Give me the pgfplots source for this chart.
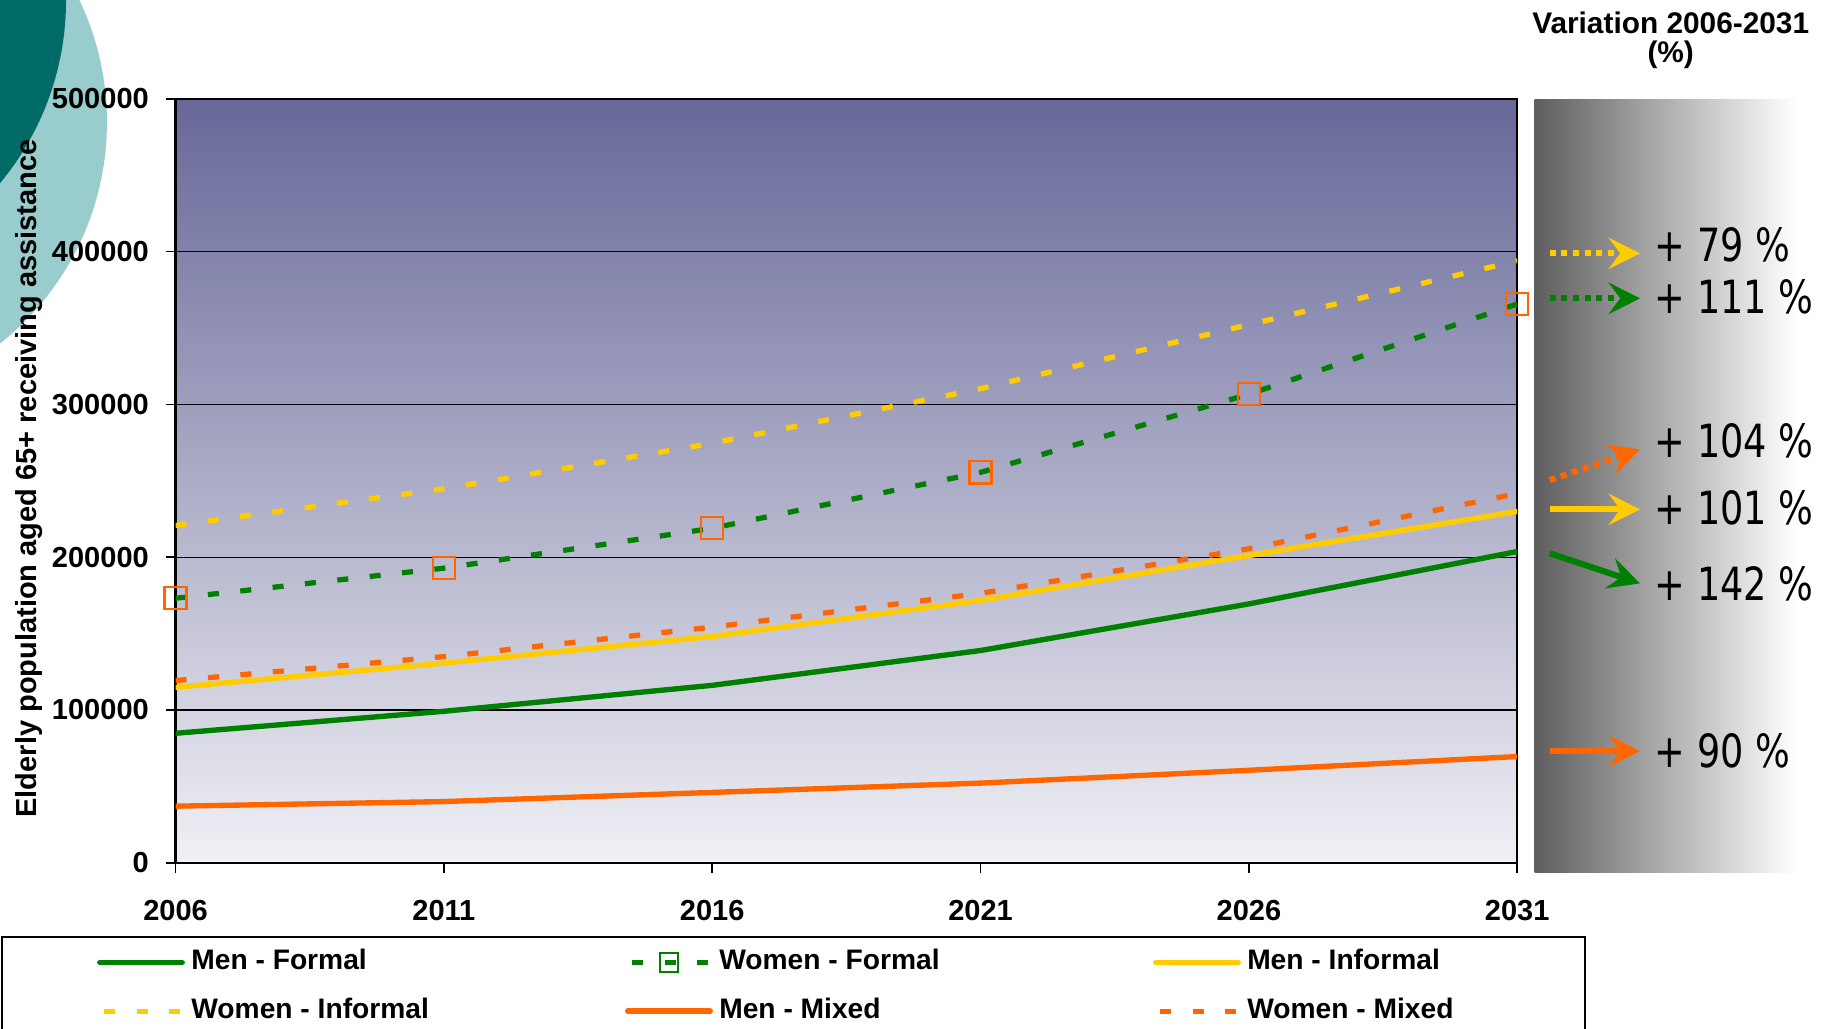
\documentclass[border=0pt]{standalone}
\usepackage{fontspec}
\setmainfont{Liberation Sans}
\newfontfamily\pctfont{DejaVu Sans}[FakeStretch=0.8]
\usepackage{pgfplots}
\pgfplotsset{compat=1.18}
\usetikzlibrary{arrows.meta}

\definecolor{cgreen}{RGB}{0,128,0}
\definecolor{cyellow}{RGB}{255,204,0}
\definecolor{corange}{RGB}{255,102,0}
\definecolor{bgtop}{RGB}{103,104,152}
\definecolor{bgbot}{RGB}{240,240,245}
\definecolor{tealdark}{RGB}{0,106,102}
\definecolor{teallight}{RGB}{153,204,204}
\definecolor{panelgray}{RGB}{94,94,94}

\newcommand\tickfont{\bfseries\fontsize{7.1}{8.5}\selectfont}
\newcommand\legfont{\bfseries\fontsize{6.9}{8.3}\selectfont}
\newcommand\titlefont{\bfseries\fontsize{7.3}{8.8}\selectfont}
\newcommand\pctsize{\pctfont\fontsize{11.2}{13}\selectfont}

\tikzset{
  dashedline/.style={line width=0.45mm, dash pattern=on 0.95mm off 1.85mm},
  solidline/.style={line width=0.46mm, line cap=round},
  tip/.style={-{Stealth[length=2.7mm,width=2.7mm,inset=1mm]}},
  dotarrow/.style={line width=0.52mm, dash pattern=on 0.52mm off 0.48mm, tip},
  fullarrow/.style={line width=0.52mm, tip},
}

\begin{document}
\begin{tikzpicture}
  \useasboundingbox (-15.1mm,-14.3mm) rectangle (141.7mm,74.2mm);

  % decoration in the upper left corner
  \fill[teallight] (-30.22mm,63.7mm) circle (24.32mm);
  \fill[tealdark] (-34.06mm,74.18mm) circle (24.64mm);

  % grey panel for the variations
  \shade[left color=panelgray, right color=white] (116.9mm,-0.86mm) rectangle (139.4mm,65.6mm);

  \begin{axis}[
    scale only axis,
    width=115.4mm, height=65.7mm,
    xmin=2006, xmax=2031,
    ymin=0, ymax=500000,
    xtick={2006,2011,2016,2021,2026,2031},
    ytick={0,100000,200000,300000,400000,500000},
    scaled y ticks=false,
    /pgf/number format/fixed,
    /pgf/number format/1000 sep={},
    /pgf/number format/assume math mode=true,
    tick label style={font=\tickfont},
    xticklabel style={yshift=-1.15mm},
    yticklabel style={xshift=-0.2mm},
    tick pos=left, tick align=outside,
    major tick length=0.86mm,
    tick style={black, line width=0.15mm},
    ymajorgrids,
    major grid style={black, line width=0.11mm},
    axis line style={black, line width=0.2mm},
    axis background/.style={top color=bgtop, bottom color=bgbot},
    ylabel={Elderly population aged 65+ receiving assistance},
    ylabel style={font=\tickfont, at={(axis description cs:-0.1092,0.503)}, anchor=center},
    legend columns=3,
    legend style={draw=none, fill=none, font=\legfont,
      inner sep=0pt, outer sep=0pt,
      at={(axis description cs:-0.0585,-0.1625)}, anchor=west,
      column sep=0.55mm, row sep=1.9mm,
      nodes={inner sep=0pt}, cells={anchor=west}},
  ]
    % Men - Formal
    \addplot[cgreen, solidline,
      legend image code/.code={\draw[cgreen,solidline] (0mm,0mm)--(7.1mm,0mm);}]
      coordinates {(2006,84700) (2011,99100) (2016,116100) (2021,138900) (2026,169400) (2031,203700)};
    \addlegendentry{\makebox[36.75mm][l]{Men - Formal}}

    % Women - Formal
    \addplot[cgreen, dashedline, mark=square, mark size=0.95mm,
      mark options={draw=corange, solid, line width=0.2mm},
      legend image code/.code={
        \draw[cgreen,dashedline,dash phase=2.42mm] (0mm,0mm)--(7.1mm,0mm);
        \draw[cgreen,solid,line width=0.2mm] (2.75mm,-0.8mm) rectangle (4.35mm,0.8mm);}]
      coordinates {(2006,173100) (2011,192800) (2016,218900) (2021,255500) (2026,306700) (2031,365700)};
    \addlegendentry{\makebox[36.75mm][l]{Women - Formal}}

    % Men - Informal
    \addplot[cyellow, solidline,
      legend image code/.code={\draw[cyellow,solidline] (0mm,0mm)--(7.1mm,0mm);}]
      coordinates {(2006,114800) (2011,130600) (2016,148100) (2021,171700) (2026,201100) (2031,229900)};
    \addlegendentry{\makebox[36.75mm][l]{Men - Informal}}

    % Women - Informal
    \addplot[cyellow, dashedline,
      legend image code/.code={\draw[cyellow,dashedline,dash phase=2.42mm] (0mm,0mm)--(7.1mm,0mm);}]
      coordinates {(2006,220700) (2011,244800) (2016,274500) (2021,310300) (2026,352200) (2031,394000)};
    \addlegendentry{\makebox[36.75mm][l]{Women - Informal}}

    % Men - Mixed
    \addplot[corange, solidline,
      legend image code/.code={\draw[corange,solidline] (0mm,0mm)--(7.1mm,0mm);}]
      coordinates {(2006,37000) (2011,40000) (2016,46000) (2021,52100) (2026,60500) (2031,69500)};
    \addlegendentry{\makebox[36.75mm][l]{Men - Mixed}}

    % Women - Mixed
    \addplot[corange, dashedline,
      legend image code/.code={\draw[corange,dashedline,dash phase=2.42mm] (0mm,0mm)--(7.1mm,0mm);}]
      coordinates {(2006,119200) (2011,134900) (2016,154200) (2021,176300) (2026,205500) (2031,241700)};
    \addlegendentry{\makebox[36.75mm][l]{Women - Mixed}}
  \end{axis}

  % legend frame
  \draw[black, line width=0.17mm] (-14.96mm,-18mm) rectangle (121.2mm,-6.37mm);

  % variation panel
  \node[font=\titlefont] at (128.6mm,72.2mm) {Variation 2006-2031};
  \node[font=\titlefont] at (128.6mm,69.45mm) {(\%)};

  \draw[cyellow, dotarrow] (118.2mm,52.41mm) -- (125.96mm,52.41mm);
  \draw[cgreen, dotarrow] (118.2mm,48.54mm) -- (125.96mm,48.54mm);
  \draw[corange, dotarrow] (118.2mm,32.91mm) -- (125.96mm,35.55mm);
  \draw[cyellow, fullarrow] (118.2mm,30.39mm) -- (125.96mm,30.39mm);
  \draw[cgreen, fullarrow] (118.2mm,26.61mm) -- (125.96mm,24.03mm);
  \draw[corange, fullarrow] (118.2mm,9.6mm) -- (125.96mm,9.6mm);

  \node[anchor=west, inner sep=0pt, font=\pctsize] at (127.17mm,53.13mm) {+ 79 \%};
  \node[anchor=west, inner sep=0pt, font=\pctsize] at (127.17mm,48.68mm) {+ 111 \%};
  \node[anchor=west, inner sep=0pt, font=\pctsize] at (127.17mm,36.32mm) {+ 104 \%};
  \node[anchor=west, inner sep=0pt, font=\pctsize] at (127.17mm,30.52mm) {+ 101 \%};
  \node[anchor=west, inner sep=0pt, font=\pctsize] at (127.17mm,23.95mm) {+ 142 \%};
  \node[anchor=west, inner sep=0pt, font=\pctsize] at (127.17mm,9.6mm) {+ 90 \%};
\end{tikzpicture}
\end{document}
